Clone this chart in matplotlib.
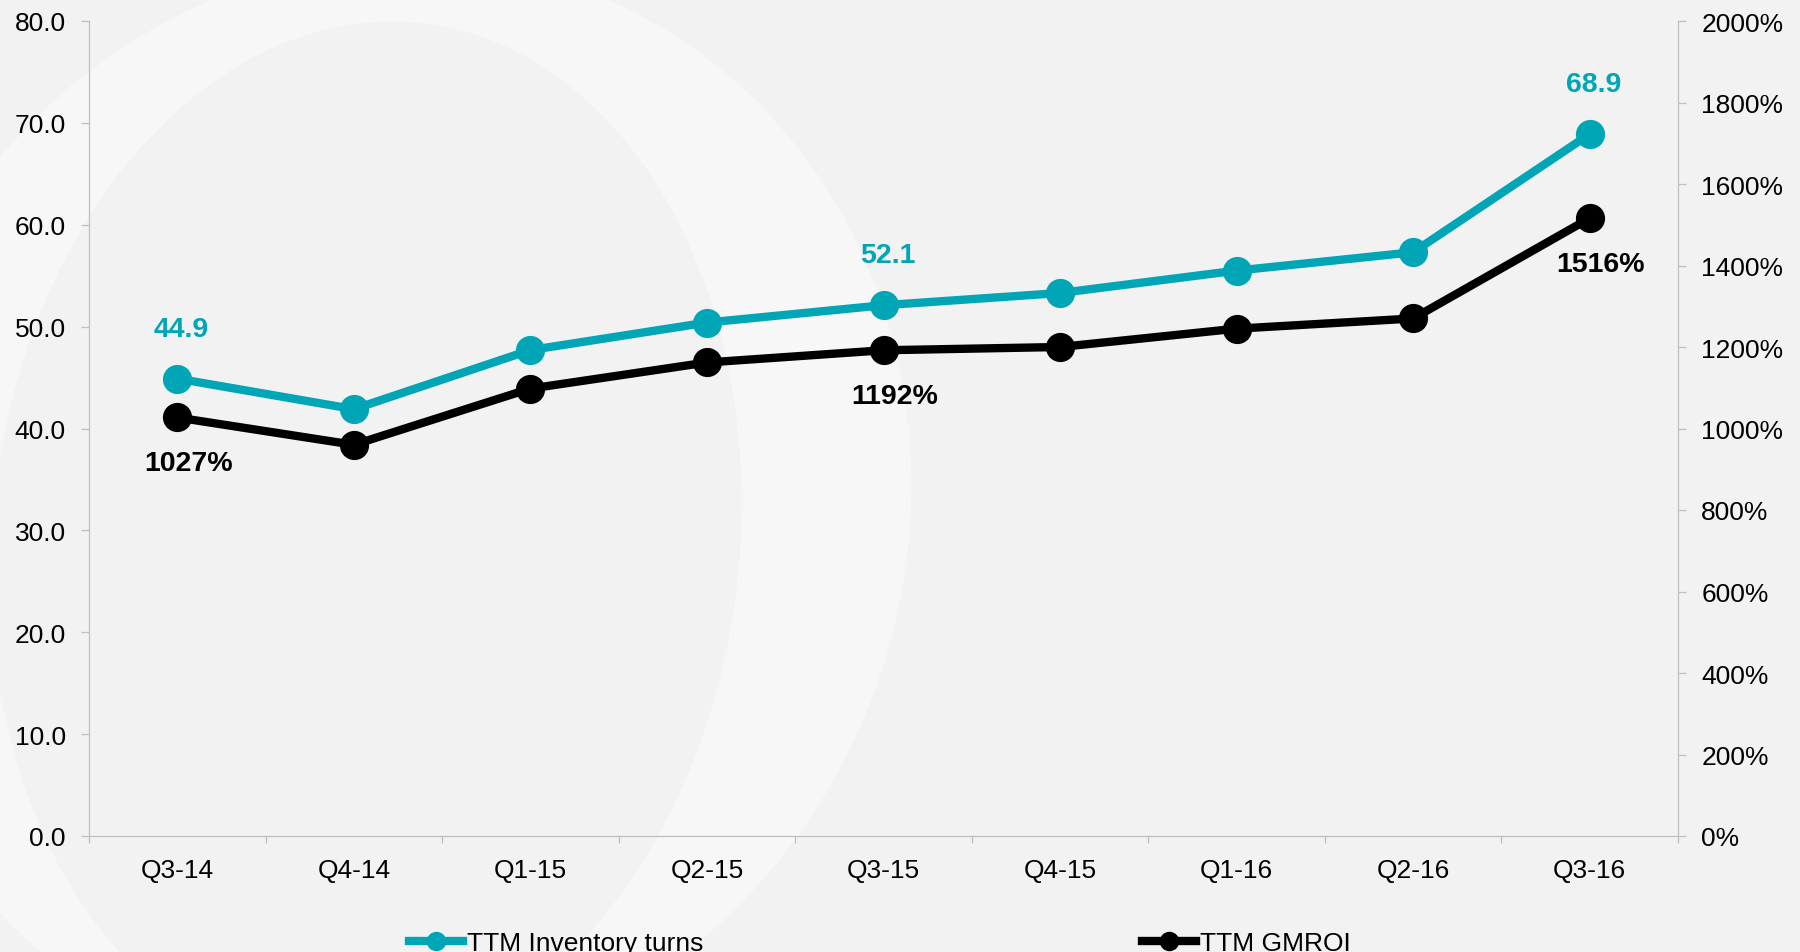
"""Quarterly TTM inventory turns and GMROI, dual-axis line chart."""

import matplotlib
matplotlib.use("Agg")
import matplotlib.pyplot as plt
import numpy as np
from matplotlib.lines import Line2D
from matplotlib.patches import Ellipse
from matplotlib.transforms import IdentityTransform

quarters = ["Q3-14", "Q4-14", "Q1-15", "Q2-15", "Q3-15", "Q4-15", "Q1-16", "Q2-16", "Q3-16"]
inventory_turns = [44.9, 41.9, 47.7, 50.4, 52.1, 53.3, 55.5, 57.3, 68.9]
gmroi_pct = [1027, 960, 1098, 1162, 1192, 1200, 1245, 1270, 1516]
labelled = [0, 4, 8]

TEAL = "#00A6B6"
BG = "#F2F2F2"
RING = "#F7F7F7"
AXIS_GREY = "#BFBFBF"
W, H = 1800, 953

plt.rcParams["font.family"] = ["Liberation Sans", "DejaVu Sans"]

fig = plt.figure(figsize=(W / 100, H / 100), dpi=100, facecolor=BG)

# soft ring decoration behind the plot (pixel coordinates)
outer = Ellipse((385, H - 515), 1040, 1120, angle=-22, color=RING,
                transform=IdentityTransform(), zorder=-10)
inner = Ellipse((366, H - 540), 746, 1036, angle=-6, color=BG,
                transform=IdentityTransform(), zorder=-9)
fig.patches.extend([outer, inner])

ax = fig.add_axes([89 / W, (H - 837) / H, (1678 - 89) / W, 815 / H])
ax.set_facecolor("none")
ax2 = ax.twinx()
ax2.set_facecolor("none")

x = np.arange(len(quarters))
ax.plot(x, inventory_turns, color=TEAL, lw=6, marker="o", ms=20, zorder=3)
ax2.plot(x, gmroi_pct, color="black", lw=6, marker="o", ms=20, zorder=3)

for i in labelled:
    ax.annotate(f"{inventory_turns[i]:.1f}", (x[i], inventory_turns[i]),
                xytext=(3, 36), textcoords="offset points", ha="center", va="center",
                color=TEAL, fontsize=20.5, fontweight="bold")
    ax2.annotate(f"{gmroi_pct[i]:.0f}%", (x[i], gmroi_pct[i]),
                 xytext=(8, -33), textcoords="offset points", ha="center", va="center",
                 color="black", fontsize=20.5, fontweight="bold")

ax.set_xlim(-0.5, len(quarters) - 0.5)
ax.set_ylim(0, 80)
ax2.set_ylim(0, 2000)

ax.set_yticks(np.arange(0, 81, 10))
ax.set_yticklabels([f"{v:.1f}" for v in np.arange(0, 81, 10)])
ax2.set_yticks(np.arange(0, 2001, 200))
ax2.set_yticklabels([f"{v}%" for v in range(0, 2001, 200)])

ax.set_xticks(x)
ax.set_xticklabels(quarters)
ax.set_xticks(np.arange(-0.5, len(quarters), 1), minor=True)

ax.tick_params(axis="y", length=5.8, width=0.9, color=AXIS_GREY, pad=11, labelsize=19)
ax2.tick_params(axis="y", length=5.8, width=0.9, color=AXIS_GREY, pad=11, labelsize=19)
ax.tick_params(axis="x", which="major", length=0, pad=16, labelsize=19)
ax.tick_params(axis="x", which="minor", length=5, width=0.9, color=AXIS_GREY)

for a in (ax, ax2):
    a.spines["top"].set_visible(False)
    for side in ("left", "right", "bottom"):
        a.spines[side].set_color(AXIS_GREY)
        a.spines[side].set_linewidth(0.9)
ax.spines["right"].set_visible(False)
ax2.spines["left"].set_visible(False)
ax2.spines["bottom"].set_visible(False)

handles = [
    Line2D([], [], color=TEAL, lw=6, marker="o", ms=13),
    Line2D([], [], color="black", lw=6, marker="o", ms=13),
]
fig.legend(handles, ["TTM Inventory turns", "TTM GMROI"], loc="center",
           bbox_to_anchor=(880 / W, 9 / H), ncol=2, frameon=False, fontsize=19,
           handlelength=2.05, handletextpad=0.15, columnspacing=16.6,
           borderaxespad=0, borderpad=0)

fig.savefig("out.png", dpi=100, facecolor=BG)
